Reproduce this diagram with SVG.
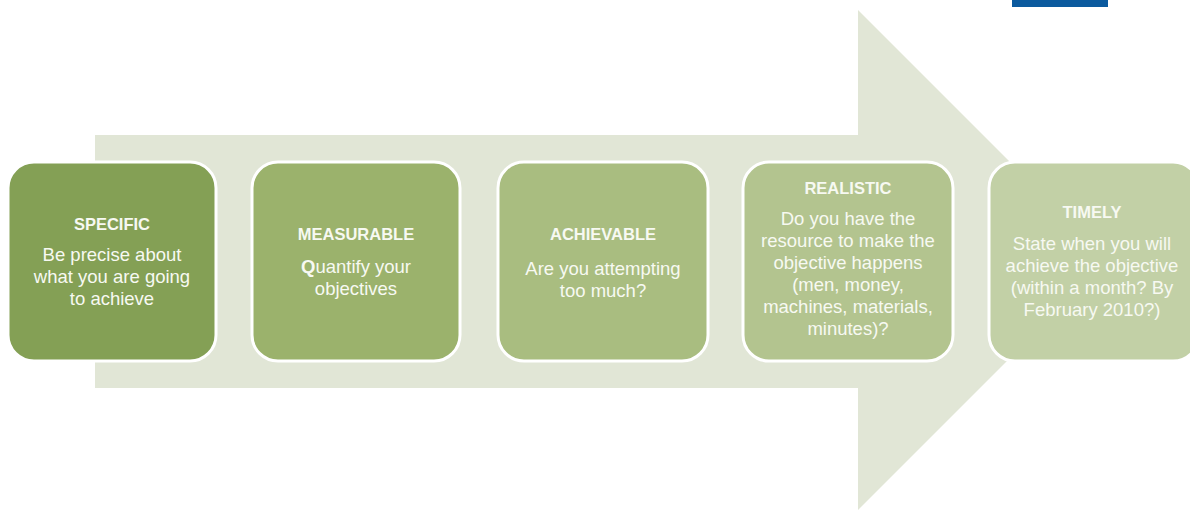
<svg xmlns="http://www.w3.org/2000/svg" width="1190" height="514" viewBox="0 0 1190 514">
<style>
.box{stroke:#ffffff;stroke-width:3}
.t{font-family:"Liberation Sans",Arial,sans-serif;fill:#f7f9f2;text-anchor:middle}
.h{font-size:16.5px;font-weight:bold}
.b{font-size:18.5px}
</style>
<rect width="1190" height="514" fill="#ffffff"/>
<rect x="1012" y="0" width="96" height="7" fill="#0b5a9e"/>
<g id="arrow">
<polygon points="95,135 858,135 858,10 1108,260 858,510 858,388 95,388" fill="#e1e6d6"/>
</g>
<g id="specific">
<rect class="box" x="8" y="162" width="208" height="199" rx="26" fill="#84a055"/>
<text class="t h" x="112" y="230">SPECIFIC</text>
<text class="t b" x="112" y="261">Be precise about</text>
<text class="t b" x="112" y="283">what you are going</text>
<text class="t b" x="112" y="305">to achieve</text>
</g>
<g id="measurable">
<rect class="box" x="252" y="162" width="208" height="199" rx="26" fill="#9bb26c"/>
<text class="t h" x="356" y="240">MEASURABLE</text>
<text class="t b" x="356" y="273"><tspan font-weight="bold">Q</tspan>uantify your</text>
<text class="t b" x="356" y="295">objectives</text>
</g>
<g id="achievable">
<rect class="box" x="498" y="162" width="210" height="199" rx="26" fill="#a9bd80"/>
<text class="t h" x="603" y="240">ACHIEVABLE</text>
<text class="t b" x="603" y="275">Are you attempting</text>
<text class="t b" x="603" y="297">too much?</text>
</g>
<g id="realistic">
<rect class="box" x="743" y="162" width="210" height="199" rx="26" fill="#b3c48f"/>
<text class="t h" x="848" y="194">REALISTIC</text>
<text class="t b" x="848" y="225">Do you have the</text>
<text class="t b" x="848" y="247">resource to make the</text>
<text class="t b" x="848" y="269">objective happens</text>
<text class="t b" x="848" y="291">(men, money,</text>
<text class="t b" x="848" y="313">machines, materials,</text>
<text class="t b" x="848" y="335">minutes)?</text>
</g>
<g id="timely">
<rect class="box" x="989" y="162" width="210" height="199" rx="26" fill="#c2d0a6"/>
<text class="t h" x="1092" y="218">TIMELY</text>
<text class="t b" x="1092" y="250">State when you will</text>
<text class="t b" x="1092" y="272">achieve the objective</text>
<text class="t b" x="1092" y="294">(within a month? By</text>
<text class="t b" x="1092" y="316">February 2010?)</text>
</g>
<g id="connectors"></g>
</svg>
